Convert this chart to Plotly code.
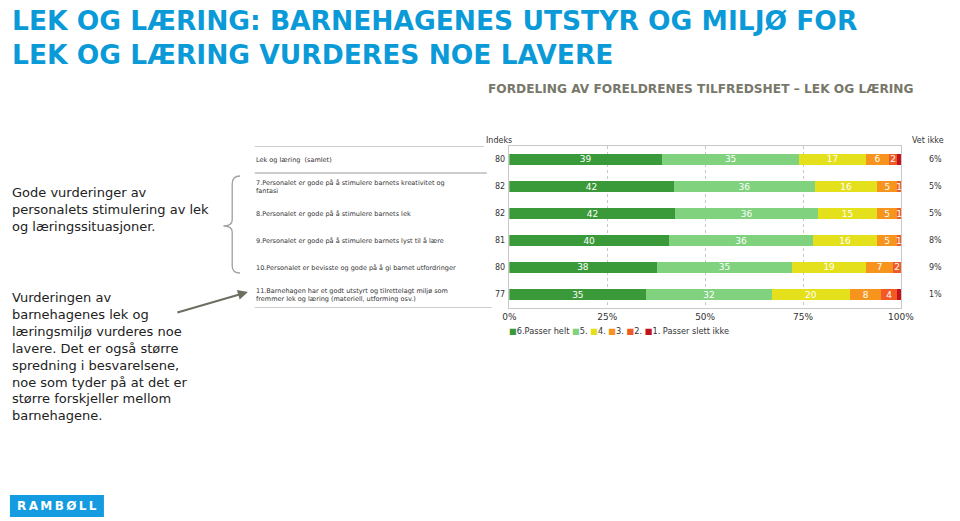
import plotly.graph_objects as go

W, H = 960, 521

def px(x):
    return x / W

def py(y):
    return 1 - y / H

# ---------------- data ----------------
questions = [
    "Lek og læring  (samlet)",
    "7.Personalet er gode på å stimulere barnets kreativitet og<br>fantasi",
    "8.Personalet er gode på å stimulere barnets lek",
    "9.Personalet er gode på å stimulere barnets lyst til å lære",
    "10.Personalet er bevisste og gode på å gi barnet utfordringer",
    "11.Barnehagen har et godt utstyrt og tilrettelagt miljø som<br>fremmer lek og læring (materiell, utforming osv.)",
]
indeks = [80, 82, 82, 81, 80, 77]
vet_ikke = ["6%", "5%", "5%", "8%", "9%", "1%"]

cat_names = ["6.Passer helt", "5.", "4.", "3.", "2.", "1. Passer slett ikke"]
cat_colors = ["#3a9a3a", "#80d27e", "#e4e01c", "#f7941e", "#f15a24", "#c4121a"]

v6 = [39, 42, 42, 40, 38, 35]
v5 = [35, 36, 36, 36, 35, 32]
v4 = [17, 16, 15, 16, 19, 20]
v3 = [6, 5, 5, 5, 7, 8]
v2 = [2, 1, 1, 1, 2, 4]
v1 = [1, 0, 0, 0, 0, 1]
series = [v6, v5, v4, v3, v2, v1]

tick_vals = [0, 25, 50, 75, 100]
tick_text = ["0%", "25%", "50%", "75%", "100%"]

title_text = "LEK OG LÆRING: BARNEHAGENES UTSTYR OG MILJØ FOR<br>LEK OG LÆRING VURDERES NOE LAVERE"
subtitle_text = "FORDELING AV FORELDRENES TILFREDSHET – LEK OG LÆRING"
note1 = "Gode vurderinger av<br>personalets stimulering av lek<br>og læringssituasjoner."
note2 = ("Vurderingen av<br>barnehagenes lek og<br>læringsmiljø vurderes noe<br>lavere. Det er også større<br>"
         "spredning i besvarelsene,<br>noe som tyder på at det er<br>større forskjeller mellom<br>barnehagene.")

FONT = "DejaVu Sans, Verdana, sans-serif"
BLUE = "#0a9ad8"

fig = go.Figure()
ycats = list(range(len(questions)))

for i, (name, col, vals) in enumerate(zip(cat_names, cat_colors, series)):
    fig.add_trace(go.Bar(
        y=ycats, x=vals, orientation="h", name=name,
        marker=dict(color=col, line=dict(width=0)),
        text=[str(v) for v in vals] if i < 5 else None,
        texttemplate="%{text}" if i < 5 else None,
        textposition="inside" if i < 5 else "none",
        insidetextanchor="middle", textangle=0,
        textfont=dict(color="white", size=9, family=FONT),
        showlegend=False, hoverinfo="skip",
    ))

fig.update_layout(
    width=W, height=H,
    margin=dict(l=0, r=0, t=0, b=0),
    paper_bgcolor="white", plot_bgcolor="white",
    barmode="stack", barnorm="percent", bargap=0.59,
    uniformtext=dict(minsize=9, mode="show"),
    font=dict(family=FONT, color="#333333"),
    xaxis=dict(domain=[px(513), px(913)], range=[0, 100],
               tickvals=tick_vals, ticktext=tick_text,
               tickfont=dict(size=9, color="#333333"),
               showgrid=True, griddash="dot", gridcolor="#c8c8c8", gridwidth=1,
               showline=True, mirror=True, linecolor="#c8c8c8", linewidth=1,
               zeroline=False, ticks="", fixedrange=True),
    yaxis=dict(domain=[py(308), py(146)], range=[5.5, -0.5],
               showticklabels=False, showgrid=False, zeroline=False,
               showline=True, mirror=True, linecolor="#c8c8c8", linewidth=1,
               fixedrange=True),
)

ann = []
ann.append(dict(text="<b>" + title_text + "</b>", x=px(3), y=py(3), xref="paper", yref="paper",
                xanchor="left", yanchor="top", align="left", showarrow=False,
                font=dict(size=26.5, color=BLUE, family=FONT)))
ann.append(dict(text="<b>" + subtitle_text + "</b>", x=px(489), y=py(89), xref="paper", yref="paper",
                xanchor="left", yanchor="middle", showarrow=False,
                font=dict(size=12.2, color="#77776a", family=FONT)))
ann.append(dict(text=note1, x=px(3), y=py(183), xref="paper", yref="paper",
                xanchor="left", yanchor="top", align="left", showarrow=False,
                font=dict(size=13, color="#222222", family=FONT)))
ann.append(dict(text=note2, x=px(3), y=py(288), xref="paper", yref="paper",
                xanchor="left", yanchor="top", align="left", showarrow=False,
                font=dict(size=13, color="#222222", family=FONT)))
ann.append(dict(text="Indeks", x=px(487), y=py(140), xref="paper", yref="paper",
                xanchor="left", yanchor="middle", showarrow=False,
                font=dict(size=8, color="#333333", family=FONT)))
ann.append(dict(text="Vet ikke", x=px(941), y=py(140), xref="paper", yref="paper",
                xanchor="center", yanchor="middle", showarrow=False,
                font=dict(size=8, color="#333333", family=FONT)))
for i, q in enumerate(questions):
    ann.append(dict(text=q, x=px(252), y=i, xref="paper", yref="y",
                    xanchor="left", yanchor="middle", align="left", showarrow=False,
                    font=dict(size=6.5, color="#333333", family=FONT)))
    ann.append(dict(text=str(indeks[i]), x=px(511), y=i, xref="paper", yref="y",
                    xanchor="right", yanchor="middle", showarrow=False,
                    font=dict(size=8, color="#333333", family=FONT)))
    ann.append(dict(text=vet_ikke[i], x=px(948), y=i, xref="paper", yref="y",
                    xanchor="center", yanchor="middle", showarrow=False,
                    font=dict(size=8, color="#333333", family=FONT)))
leg = "&nbsp;".join(
    '<span style="color:%s">■</span>%s' % (c, n) for c, n in zip(cat_colors, cat_names))
ann.append(dict(text=leg, x=px(511), y=py(331), xref="paper", yref="paper",
                xanchor="left", yanchor="middle", showarrow=False,
                font=dict(size=8.2, color="#333333", family=FONT)))
ann.append(dict(text="", x=px(246), y=py(292), xref="paper", yref="paper",
                ax=-72, ay=21, showarrow=True, arrowhead=2, arrowsize=1,
                arrowwidth=2, arrowcolor="#6e6e60"))
ann.append(dict(text="<b>R\u2009A\u2009M\u2009B\u2009Ø\u2009L\u2009L</b>", x=px(51), y=py(506),
                xref="paper", yref="paper", xanchor="center", yanchor="middle",
                showarrow=False, font=dict(size=12, color="white", family=FONT)))

shapes = []
for yv, x0, x1 in [(-0.5, 253, 487), (0.5, 253, 490), (5.5, 253, 495)]:
    shapes.append(dict(type="line", xref="paper", yref="y", x0=px(x0), x1=px(x1),
                       y0=yv, y1=yv, line=dict(color="#9a9a9a", width=1.2)))
def P(x, y):
    return "%.5f,%.5f" % (px(x), py(y))
brace = ("M " + P(238, 176) + " Q " + P(230, 176) + " " + P(230, 184) +
         " L " + P(230, 220) + " Q " + P(230, 226) + " " + P(221, 226) +
         " Q " + P(230, 226) + " " + P(230, 232) + " L " + P(230, 266) +
         " Q " + P(230, 273) + " " + P(238, 273))
shapes.append(dict(type="path", xref="paper", yref="paper", path=brace,
                   line=dict(color="#a0a0a0", width=1.3)))
shapes.append(dict(type="rect", xref="paper", yref="paper", x0=px(3), x1=px(99),
                   y0=py(517), y1=py(495), fillcolor="#159be0",
                   line=dict(color="#159be0", width=0)))

fig.update_layout(annotations=ann, shapes=shapes)
post = """
document.body.style.margin='0px';
var gd = document.getElementById('{plot_id}');
Plotly.relayout(gd, {'width': 960, 'height': 521});
"""
fig.write_html(
    "out.html",
    config={"responsive": False, "displayModeBar": False},
    post_script=post,
)
